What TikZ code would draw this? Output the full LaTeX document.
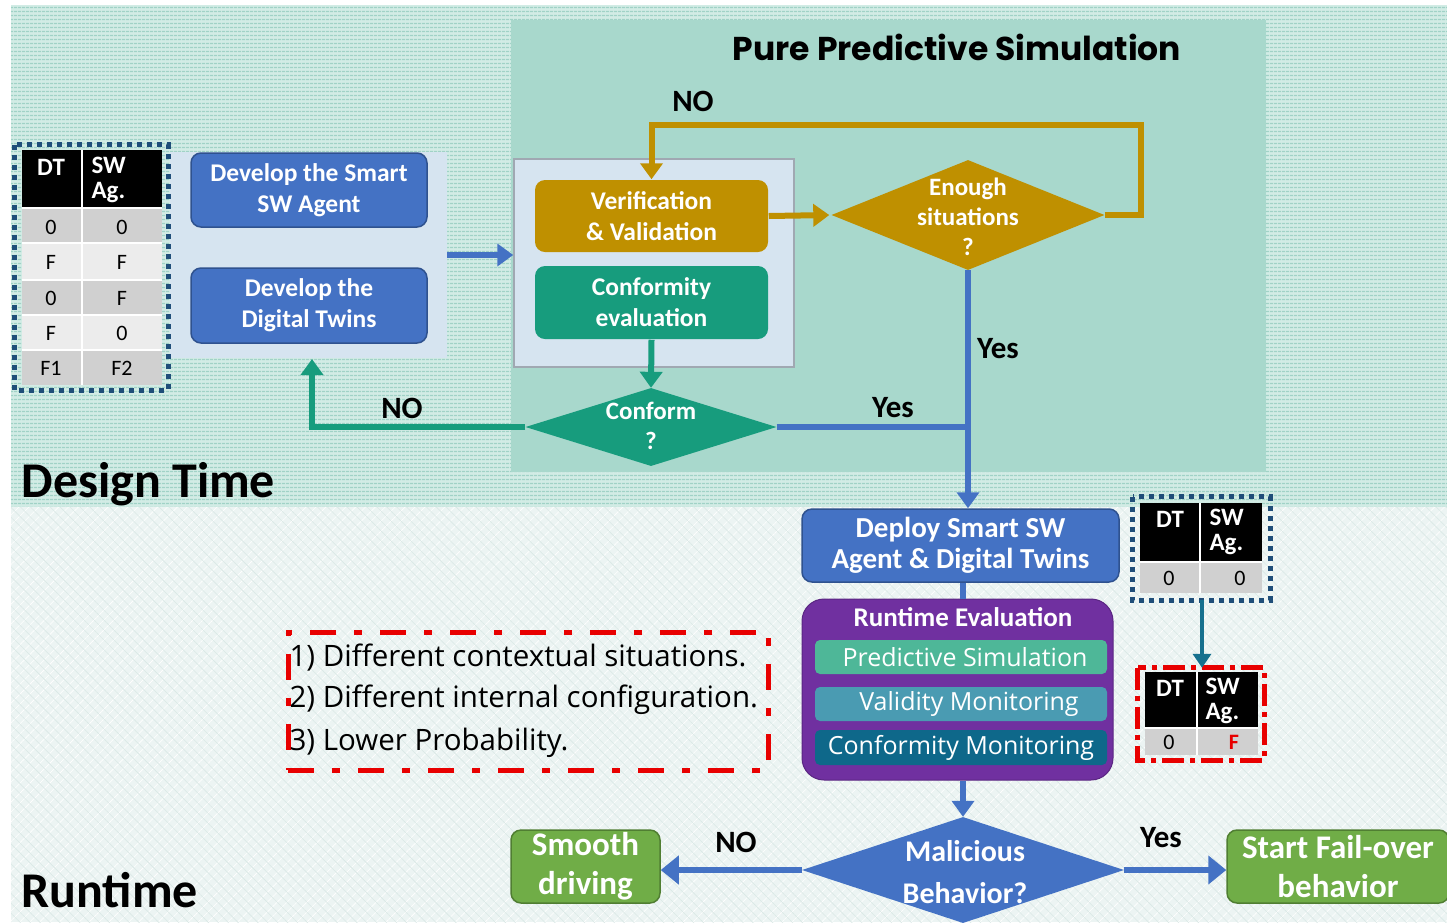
\documentclass[tikz,border=0pt]{standalone}
\usepackage{fontspec}
\setmainfont{Carlito}
\newfontfamily\osans{Open Sans}
\newfontfamily\popp{Poppins}
\usetikzlibrary{arrows.meta,shapes.geometric,patterns.meta}
\definecolor{mblue}{RGB}{68,114,196}
\definecolor{mblueD}{RGB}{47,82,143}
\definecolor{mgold}{RGB}{191,144,0}
\definecolor{mteal}{RGB}{23,156,125}
\definecolor{mgreen}{RGB}{112,173,71}
\definecolor{mgreenD}{RGB}{80,126,50}
\definecolor{mpurple}{RGB}{112,48,160}
\definecolor{barA}{RGB}{78,183,152}
\definecolor{barB}{RGB}{74,155,178}
\definecolor{barC}{RGB}{14,104,138}
\definecolor{dtbase}{RGB}{210,236,229}
\definecolor{dtline}{RGB}{160,210,198}
\definecolor{rtbase}{RGB}{236,244,243}
\definecolor{ppbase}{RGB}{168,216,204}
\definecolor{panelc}{RGB}{214,228,240}
\definecolor{tdark}{RGB}{31,78,121}
\definecolor{tgray}{RGB}{208,208,208}
\definecolor{tlight}{RGB}{236,236,236}
\definecolor{mred}{RGB}{232,0,0}
\definecolor{arrteal}{RGB}{22,112,142}
\newcommand\fsz[2]{\fontsize{#1}{#2}\selectfont}
\tikzset{
  box/.style={rectangle, rounded corners=10pt, text=white, align=center,
    font=\bfseries\fsz{25.5}{31}, inner sep=0pt, line width=1.5pt},
  bluebox/.style={box, fill=mblue, draw=mblueD},
  goldbox/.style={box, fill=mgold, draw=none},
  tealbox/.style={box, fill=mteal, draw=none},
  greenbox/.style={box, fill=mgreen, draw=mgreenD, font=\bfseries\fsz{33}{39}},
  bar/.style={rectangle, rounded corners=5pt, text=white, inner sep=0pt,
    minimum width=292pt, font=\osans\fsz{25}{28}},
  dia/.style={diamond, inner sep=0pt, draw=none},
  diatext/.style={text=white, align=center, font=\bfseries\fsz{25}{30}},
  lbl/.style={text=black, font=\bfseries\fsz{31}{34}},
  arr/.style={line width=6pt, -{Triangle[length=16pt,width=22pt]}},
  ln/.style={line width=6pt},
  thd/.style={text=white, font=\bfseries\fsz{25}{25}, align=left},
  tcell/.style={text=black, font=\fsz{22}{24}},
  bluedots/.style={draw=tdark, line width=5pt, dash pattern=on 5pt off 5pt},
}
\begin{document}
\begin{tikzpicture}[x=1pt,y=-1pt]
\useasboundingbox (0,0) rectangle (1447,922);
\fill[white] (0,0) rectangle (1447,922);
% ---------- backgrounds
\fill[dtbase] (11,5) rectangle (1447,507);
\fill[pattern={Lines[angle=0,distance=4pt,line width=1.6pt]}, pattern color=dtline] (11,5) rectangle (1447,507);
\fill[rtbase] (11,507) rectangle (1447,922);
\fill[pattern={Lines[angle=45,distance=7pt,line width=0.6pt]}, pattern color=white] (11,507) rectangle (1447,922);
\fill[pattern={Lines[angle=-45,distance=7pt,line width=0.6pt]}, pattern color={rgb,255:red,218;green,232;blue,230}] (11,507) rectangle (1447,922);
\node[rectangle, fill=ppbase, minimum width=755pt, minimum height=452pt, inner sep=0pt] (pure) at (888.5,246) {};
\node[font=\popp\bfseries\fsz{33}{36}] (puretitle) at (957,47) {Pure Predictive Simulation};
\node[font=\bfseries\fsz{50}{54}, anchor=west] (design) at (18,484) {Design Time};
\node[font=\bfseries\fsz{50}{54}, anchor=west] (runtime) at (18,890) {Runtime};
% ---------- panels
\node[rectangle, fill=panelc, minimum width=277pt, minimum height=206pt, inner sep=0pt] (leftpanel) at (308.5,255) {};
\node[rectangle, fill=panelc, draw={rgb,255:red,160;green,168;blue,178}, line width=1.5pt, minimum width=280pt, minimum height=208pt, inner sep=0pt] (inpanel) at (654,263) {};
% ---------- boxes
\node[bluebox, minimum width=236pt, minimum height=74pt] (devA) at (309,190) {Develop the Smart\\SW Agent};
\node[bluebox, minimum width=236pt, minimum height=75pt] (devB) at (309,305.5) {Develop the\\Digital Twins};
\node[goldbox, minimum width=233pt, minimum height=72pt] (vv) at (651.5,216) {Verification\\\& Validation};
\node[tealbox, minimum width=233pt, minimum height=73pt] (ce) at (651.5,302.5) {Conformity\\evaluation};
\node[dia, fill=mgold, minimum width=273pt, minimum height=110pt] (en) at (968,215) {};
\node[diatext] (entext) at (968,217) {Enough\\situations\\?};
\node[dia, fill=mteal, minimum width=251pt, minimum height=78pt] (cf) at (651,427) {};
\node[diatext] (cftext) at (651,426) {Conform\\?};
\node[bluebox, minimum width=317pt, minimum height=73pt, font=\bfseries\fsz{29}{31}] (dep) at (960.5,545.5) {Deploy Smart SW\\Agent \& Digital Twins};
\node[rectangle, rounded corners=22pt, fill=mpurple, draw={rgb,255:red,90;green,38;blue,130}, line width=1pt, minimum width=311pt, minimum height=181pt, inner sep=0pt] (rte) at (957.5,689.5) {};
\node[text=white, font=\bfseries\fsz{27}{30}] (rtetitle) at (963,617) {Runtime Evaluation};
\node[bar, fill=barA, minimum height=34pt] (pred) at (961,657) {\hspace*{8pt}Predictive Simulation};
\node[bar, fill=barB, minimum height=34pt] (vali) at (961,704) {\hspace*{16pt}Validity Monitoring};
\node[bar, fill=barC, minimum height=35pt] (conm) at (961,747.5) {Conformity Monitoring};
\node[dia, fill=mblue, minimum width=322pt, minimum height=106pt] (mal) at (963,870) {};
\node[diatext, font=\bfseries\fsz{30}{42}] (maltext) at (965,872) {Malicious\\Behavior?};
\node[greenbox, minimum width=149pt, minimum height=73pt] (smooth) at (585.5,866.5) {Smooth\\driving};
\node[greenbox, minimum width=222pt, minimum height=73pt] (start) at (1338,866.5) {Start Fail-over\\behavior};
% ---------- connectors
\draw[arr, draw=mblue] (leftpanel.east) -- (leftpanel.east -| inpanel.west);
\draw[arr, draw=mgold, shorten >=2pt] (vv.east) -- (en.west);
\coordinate (loopA) at (1141,125);
\draw[arr, draw=mgold] (en.east) -| (loopA) -| (vv.north);
\draw[arr, draw=mteal] (ce.south) -- (cf.north);
\coordinate (noTip) at (312,359);
\draw[arr, draw=mteal] (cf.west) -| (noTip);
\draw[arr, draw=mblue] (en.south) -- (en.south |- dep.north);
\draw[ln, draw=mblue] (cf.east) -- (cf.east -| en.south);
\draw[ln, draw=mblue] (dep.south -| mal.north) -- (rte.north -| mal.north);
\draw[arr, draw=mblue] (rte.south -| mal.north) -- (mal.north);
\draw[arr, draw=mblue, -{Triangle[length=18pt,width=28pt]}] (mal.west) -- (mal.west -| smooth.east);
\draw[arr, draw=mblue, -{Triangle[length=18pt,width=28pt]}] (mal.east) -- (mal.east -| start.west);
% ---------- labels
\node[lbl] (noTop) at (693,101) {NO};
\node[lbl] (yesV) at (998,349) {Yes};
\node[lbl] (yesH) at (893,408) {Yes};
\node[lbl] (noL) at (402,408) {NO};
\node[lbl] (noB) at (736,842) {NO};
\node[lbl] (yesB) at (1161,838) {Yes};
% ---------- table A (left)
\fill[black] (22,150) rectangle (162,208);
\fill[tgray] (22,208) rectangle (162,243);
\fill[tlight] (22,243) rectangle (162,280);
\fill[tgray] (22,280) rectangle (162,315);
\fill[tlight] (22,315) rectangle (162,350);
\fill[tgray] (22,350) rectangle (162,385);
\draw[white, line width=2pt] (82,150) -- (82,385);
\draw[white, line width=1.5pt] (22,208) -- (162,208) (22,243) -- (162,243) (22,280) -- (162,280) (22,315) -- (162,315) (22,350) -- (162,350);
\node[draw=none, minimum width=153pt, minimum height=245pt, inner sep=0pt] (tabA) at (91.5,267.5) {};
\draw[bluedots] (tabA.north west) rectangle (tabA.south east);
\node[thd] at (51,167) {DT};
\node[thd, anchor=north west] at (88,154) {SW\\Ag.};
\node[tcell] at (51,227) {0};   \node[tcell] at (122,227) {0};
\node[tcell] at (51,262) {F};   \node[tcell] at (122,262) {F};
\node[tcell] at (51,298) {0};   \node[tcell] at (122,298) {F};
\node[tcell] at (51,333) {F};   \node[tcell] at (122,333) {0};
\node[tcell] at (51,368) {F1};  \node[tcell] at (122,368) {F2};
% ---------- table B (right top)
\fill[black] (1140,503) rectangle (1262,562);
\fill[tgray] (1140,562) rectangle (1262,593);
\draw[white, line width=2pt] (1200,503) -- (1200,593);
\draw[white, line width=1.5pt] (1140,562) -- (1262,562);
\node[draw=none, minimum width=137pt, minimum height=103pt, inner sep=0pt] (tabB) at (1201.5,548.5) {};
\draw[bluedots] (tabB.north west) rectangle (tabB.south east);
\node[thd] at (1170,519) {DT};
\node[thd, anchor=north west] at (1206,506) {SW\\Ag.};
\node[tcell] at (1169,578) {0}; \node[tcell] at (1240,578) {0};
% ---------- table C (right bottom)
\fill[black] (1145,672) rectangle (1258,728);
\fill[tgray] (1145,728) rectangle (1258,755);
\draw[white, line width=2pt] (1197,672) -- (1197,755);
\draw[white, line width=1.5pt] (1145,728) -- (1258,728);
\node[draw=none, minimum width=126pt, minimum height=92pt, inner sep=0pt] (tabC) at (1201,714) {};
\draw[mred, line width=5pt, dash pattern=on 22pt off 6pt on 5pt off 6pt] (tabC.north west) rectangle (tabC.south east);
\node[thd] at (1170,688) {DT};
\node[thd, anchor=north west] at (1202,675) {SW\\Ag.};
\node[tcell] at (1169,742) {0}; \node[tcell, text=mred, font=\bfseries\fsz{22}{24}] at (1234,742) {F};
\draw[arr, draw=arrteal, line width=4pt, -{Triangle[length=14pt,width=18pt]}] (tabB.south -| 1202,0) -- (tabC.north -| 1202,0);
% ---------- red dash-dot note
\node[draw=mred, line width=5pt, dash pattern=on 26pt off 18pt on 8pt off 18pt, minimum width=480pt, minimum height=138pt, inner sep=0pt] (note) at (528,701) {};
\node[anchor=west, font=\osans\fsz{29.5}{32}] (l1) at (286,658) {1) Different contextual situations.};
\node[anchor=west, font=\osans\fsz{29.5}{32}] (l2) at (286,700) {2) Different internal configuration.};
\node[anchor=west, font=\osans\fsz{29.5}{32}] (l3) at (286,743) {3) Lower Probability.};
\end{tikzpicture}
\end{document}
